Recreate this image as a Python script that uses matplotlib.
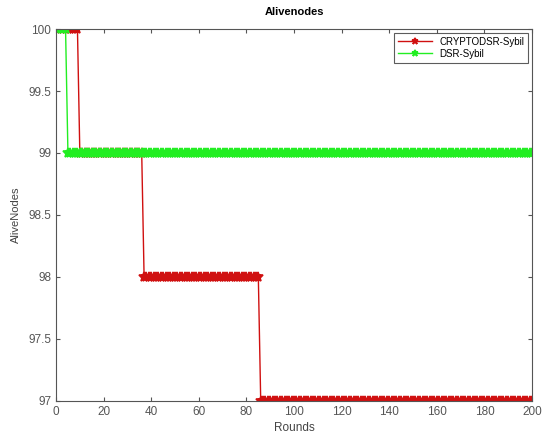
import numpy as np
import matplotlib
matplotlib.use('Agg')
import matplotlib.pyplot as plt

# step levels: round where each level starts
rounds = np.arange(1, 201)
crypto_starts = [1, 10, 37, 86]
crypto_levels = [100, 99, 98, 97]
dsr_starts = [1, 5]
dsr_levels = [100, 99]


def steps(starts, levels):
    counts = np.diff(starts + [rounds[-1] + 1])
    return np.repeat(levels, counts)


crypto = steps(crypto_starts, crypto_levels)
dsr = steps(dsr_starts, dsr_levels)

plt.rcParams['font.family'] = ['Liberation Sans', 'DejaVu Sans']
fig = plt.figure(figsize=(5.44, 4.33), dpi=100)
ax = fig.add_axes([0.103, 0.074, 0.875, 0.859])

ax.plot(rounds, crypto, color='#d01010', marker='*', markersize=7,
        markeredgewidth=1.2, linewidth=1.0, label='CRYPTODSR-Sybil')
ax.plot(rounds, dsr, color='#22ee22', marker='*', markersize=7,
        markeredgewidth=1.2, linewidth=1.0, label='DSR-Sybil')

ax.set_xlim(0, 200)
ax.set_ylim(97, 100)
ax.set_xticks(np.arange(0, 201, 20))
ax.set_yticks([97, 97.5, 98, 98.5, 99, 99.5, 100])
ax.set_yticklabels(['97', '97.5', '98', '98.5', '99', '99.5', '100'])
ax.tick_params(direction='in', top=True, right=True, labelsize=8.5,
               colors='#555555', length=3)
for s in ax.spines.values():
    s.set_color('#555555')

ax.set_title('Alivenodes', fontsize=8, fontweight='bold', pad=10)
ax.set_xlabel('Rounds', fontsize=8.5, color='#444444', labelpad=3)
ax.set_ylabel('AliveNodes', fontsize=8, color='#444444', labelpad=5)

leg = ax.legend(loc='upper right', fontsize=7, frameon=True, fancybox=False,
                borderpad=0.4, handlelength=3.5, labelspacing=0.2,
                borderaxespad=0.4)
for h in leg.legend_handles:
    h.set_markersize(5)
leg.get_frame().set_edgecolor('#333333')
leg.get_frame().set_linewidth(0.8)

fig.savefig('out.png', dpi=100)
